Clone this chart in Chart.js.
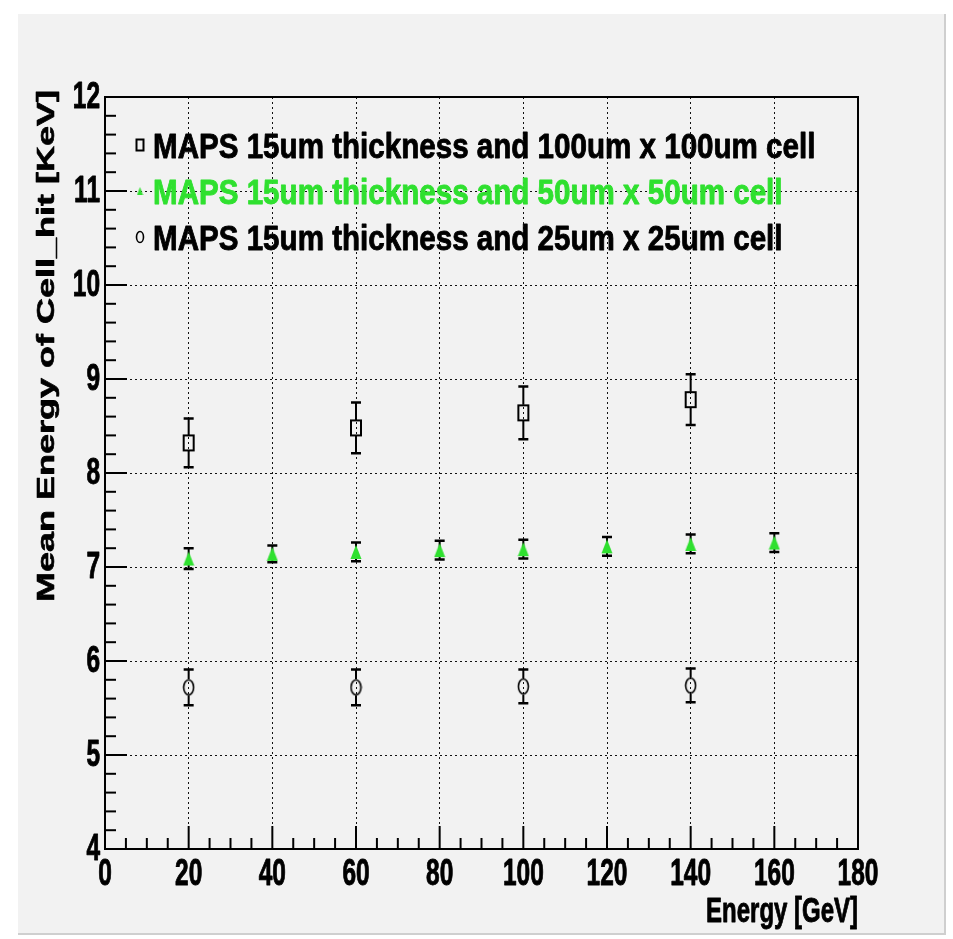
<!DOCTYPE html>
<html>
<head>
<meta charset="utf-8">
<script src="https://cdn.jsdelivr.net/npm/chart.js@4.4.0/dist/chart.umd.min.js"></script>
<style>
html,body{margin:0;padding:0;background:#fff;}
#wrap{position:relative;width:953px;height:939px;}
</style>
</head>
<body>
<div id="wrap"><canvas id="c" width="953" height="939"></canvas></div>
<script>
// ---- data ----
const energy100 = [20, 60, 100, 140];
const mean100   = [8.32, 8.48, 8.64, 8.78];
const err100    = [0.26, 0.27, 0.28, 0.27];

const energy50  = [20, 40, 60, 80, 100, 120, 140, 160];
const mean50    = [7.09, 7.14, 7.16, 7.18, 7.19, 7.22, 7.245, 7.26];
const err50     = [0.11, 0.09, 0.10, 0.10, 0.10, 0.10, 0.10, 0.10];

const energy25  = [20, 60, 100, 140];
const mean25    = [5.72, 5.72, 5.73, 5.74];
const err25     = [0.19, 0.19, 0.18, 0.18];

const seriesLabels = [
  'MAPS 15um thickness and 100um x 100um cell',
  'MAPS 15um thickness and 50um x 50um cell',
  'MAPS 15um thickness and 25um x 25um cell'
];
const xTicks = [0, 20, 40, 60, 80, 100, 120, 140, 160, 180];
const yTicks = [4, 5, 6, 7, 8, 9, 10, 11, 12];
const xTitle = 'Energy [GeV]';
const yTitle = 'Mean Energy of Cell_hit [KeV]';

// ---- styles ----
const GREEN = '#2fe02f';
const FONT = '"Liberation Sans", Arial, sans-serif';

function makeMarker(kind, s) {
  const c = document.createElement('canvas');
  if (kind === 'square') {
    c.width = Math.round(14 * s); c.height = Math.round(19 * s);
    const g = c.getContext('2d');
    g.strokeStyle = '#000'; g.lineWidth = 2;
    g.strokeRect(2, 2, c.width - 4, c.height - 4);
  } else if (kind === 'circle') {
    c.width = Math.round(13 * s); c.height = Math.round(18 * s);
    const g = c.getContext('2d');
    g.strokeStyle = '#000'; g.lineWidth = 1.6;
    g.beginPath(); g.ellipse(c.width / 2, c.height / 2, c.width / 2 - 1.5, c.height / 2 - 1.5, 0, 0, Math.PI * 2); g.stroke();
  } else {
    c.width = Math.round(12 * s); c.height = Math.round(16 * s);
    const g = c.getContext('2d');
    g.fillStyle = GREEN;
    g.beginPath(); g.moveTo(c.width / 2, 1); g.lineTo(c.width - 0.5, c.height - 1); g.lineTo(0.5, c.height - 1); g.closePath(); g.fill();
  }
  return c;
}

function pts(xs, ys) { return xs.map((x, i) => ({ x: x, y: ys[i] })); }

const datasets = [
  { label: seriesLabels[0], data: pts(energy100, mean100), errs: err100, pointStyle: makeMarker('square', 1), legendMarker: makeMarker('square', 0.78), halfH: 8, legendColor: '#000' },
  { label: seriesLabels[1], data: pts(energy50, mean50), errs: err50, pointStyle: makeMarker('tri', 1), legendMarker: makeMarker('tri', 0.6), halfH: 0, legendColor: GREEN },
  { label: seriesLabels[2], data: pts(energy25, mean25), errs: err25, pointStyle: makeMarker('circle', 1), legendMarker: makeMarker('circle', 0.75), halfH: 8, legendColor: '#000' }
].map(d => Object.assign(d, { showLine: false, pointRadius: 8, pointHoverRadius: 8, borderColor: '#000', backgroundColor: '#000' }));

const bgPlugin = {
  id: 'bg',
  beforeDraw(chart) {
    const ctx = chart.ctx;
    ctx.save();
    ctx.fillStyle = '#ffffff';
    ctx.fillRect(0, 0, chart.width, chart.height);
    ctx.fillStyle = '#f2f2f2';
    ctx.fillRect(18, 14, 927, 920);
    ctx.strokeStyle = '#cfcfcf';
    ctx.lineWidth = 2;
    ctx.beginPath();
    ctx.moveTo(945, 14); ctx.lineTo(945, 934); ctx.lineTo(18, 934);
    ctx.stroke();
    ctx.restore();
  }
};

const frameTicksPlugin = {
  id: 'frameTicks',
  beforeDatasetsDraw(chart) {
    const { ctx, chartArea: a, scales: { x, y } } = chart;
    ctx.save();
    ctx.strokeStyle = '#000';
    ctx.lineWidth = 2;
    for (let v = x.min; v <= x.max + 1e-9; v += 5) {
      const px = x.getPixelForValue(v);
      const major = Math.abs(v % 20) < 1e-6;
      const len = major ? 23 : 11;
      ctx.beginPath(); ctx.moveTo(px, a.bottom); ctx.lineTo(px, a.bottom - len); ctx.stroke();
    }
    for (let k = 0; k <= 40; k++) {
      const v = y.min + k * 0.2;
      const py = y.getPixelForValue(v);
      const major = k % 5 === 0;
      const len = major ? 22 : 11;
      ctx.beginPath(); ctx.moveTo(a.left, py); ctx.lineTo(a.left + len, py); ctx.stroke();
    }
    ctx.strokeRect(a.left, a.top, a.right - a.left, a.bottom - a.top);
    ctx.restore();
  }
};

const errorBarPlugin = {
  id: 'errorBars',
  beforeDatasetsDraw(chart) {
    const { ctx, scales: { x, y } } = chart;
    ctx.save();
    chart.data.datasets.forEach(ds => {
      ctx.strokeStyle = '#000';
      ctx.lineWidth = 2;
      ds.data.forEach((p, i) => {
        const px = x.getPixelForValue(p.x);
        const pc = y.getPixelForValue(p.y);
        const pt = y.getPixelForValue(p.y + ds.errs[i]);
        const pb = y.getPixelForValue(p.y - ds.errs[i]);
        ctx.beginPath();
        ctx.moveTo(px, pt); ctx.lineTo(px, pc - ds.halfH);
        ctx.moveTo(px, pc + ds.halfH); ctx.lineTo(px, pb);
        ctx.stroke();
        ctx.lineWidth = 2.5;
        ctx.beginPath();
        ctx.moveTo(px - 5, pt); ctx.lineTo(px + 5, pt);
        ctx.moveTo(px - 5, pb); ctx.lineTo(px + 5, pb);
        ctx.stroke();
        ctx.lineWidth = 2;
      });
    });
    ctx.restore();
  }
};

function heavyText(ctx, s, color) {
  ctx.fillStyle = color; ctx.strokeStyle = color;
  ctx.lineWidth = 0.9; ctx.lineJoin = 'round';
  ctx.strokeText(s, 0, 0);
  ctx.fillText(s, 0, 0);
}

// axis labels and titles, drawn horizontally condensed like the original
const textPlugin = {
  id: 'axisText',
  afterDraw(chart) {
    const { ctx, chartArea: a, scales: { x, y } } = chart;
    ctx.save();
    ctx.font = 'bold 36px ' + FONT;
    // y tick labels
    ctx.textAlign = 'right'; ctx.textBaseline = 'middle';
    yTicks.forEach(v => {
      const py = y.getPixelForValue(v);
      ctx.save(); ctx.translate(a.left - 5, py + 1); ctx.scale(0.68, 1);
      heavyText(ctx, String(v), '#000'); ctx.restore();
    });
    // x tick labels
    ctx.textAlign = 'center'; ctx.textBaseline = 'alphabetic';
    xTicks.forEach(v => {
      const px = x.getPixelForValue(v);
      ctx.save(); ctx.translate(px, a.bottom + 36); ctx.scale(0.68, 1);
      heavyText(ctx, String(v), '#000'); ctx.restore();
    });
    // x title
    ctx.font = 'bold 35px ' + FONT;
    ctx.textAlign = 'right';
    ctx.save(); ctx.translate(a.right, a.bottom + 73); ctx.scale(0.685, 1);
    heavyText(ctx, xTitle, '#000'); ctx.restore();
    // y title
    ctx.font = 'bold 36px ' + FONT;
    ctx.textAlign = 'right'; ctx.textBaseline = 'alphabetic';
    ctx.save(); ctx.translate(a.left - 51, a.top - 7); ctx.scale(0.68, 1); ctx.rotate(-Math.PI / 2);
    heavyText(ctx, yTitle, '#000'); ctx.restore();
    ctx.restore();
  }
};

const legendPlugin = {
  id: 'rootLegend',
  afterDatasetsDraw(chart) {
    const ctx = chart.ctx;
    const a = chart.chartArea;
    ctx.save();
    ctx.font = 'bold 35px ' + FONT;
    ctx.textBaseline = 'alphabetic';
    ctx.textAlign = 'left';
    chart.data.datasets.forEach((ds, i) => {
      const base = a.top + 61 + i * 46;
      const img = ds.legendMarker;
      ctx.drawImage(img, a.left + 35 - img.width / 2, base - 13 - img.height / 2);
      ctx.save(); ctx.translate(a.left + 48, base); ctx.scale(0.845, 1);
      heavyText(ctx, ds.label, ds.legendColor); ctx.restore();
    });
    ctx.restore();
  }
};

const gridCommon = { color: '#111', lineWidth: 1, drawTicks: false };

new Chart(document.getElementById('c'), {
  type: 'scatter',
  data: { datasets: datasets },
  plugins: [bgPlugin, frameTicksPlugin, errorBarPlugin, legendPlugin, textPlugin],
  options: {
    responsive: false,
    animation: false,
    events: [],
    layout: { padding: { left: 0, top: 97, right: 95, bottom: 0 } },
    plugins: { legend: { display: false }, tooltip: { enabled: false } },
    scales: {
      x: {
        type: 'linear', min: 0, max: 180,
        afterBuildTicks(s) { s.ticks = xTicks.map(v => ({ value: v })); },
        afterFit(s) { s.height = 90; },
        border: { display: false, dash: [2, 3] },
        grid: Object.assign({}, gridCommon),
        ticks: { display: false },
        title: { display: false, text: xTitle }
      },
      y: {
        type: 'linear', min: 4, max: 12,
        afterBuildTicks(s) { s.ticks = yTicks.map(v => ({ value: v })); },
        afterFit(s) { s.width = 105; },
        border: { display: false, dash: [2, 3] },
        grid: Object.assign({}, gridCommon),
        ticks: { display: false },
        title: { display: false, text: yTitle }
      }
    }
  }
});
</script>
</body>
</html>
